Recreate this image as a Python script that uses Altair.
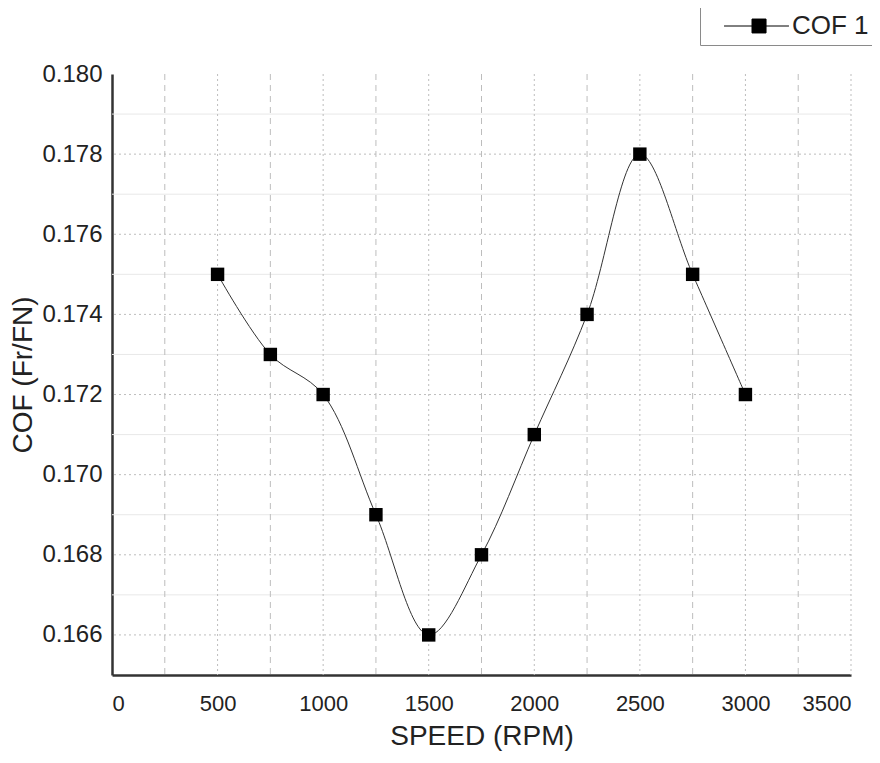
import altair as alt
import pandas as pd

speed = [500, 750, 1000, 1250, 1500, 1750, 2000, 2250, 2500, 2750, 3000]
cof = [0.175, 0.173, 0.172, 0.169, 0.166, 0.168, 0.171, 0.174, 0.178, 0.175, 0.172]
series = ["COF 1"] * len(speed)

x_major = [0, 500, 1000, 1500, 2000, 2500, 3000, 3500]
x_minor = [250, 750, 1250, 1750, 2250, 2750, 3250]
y_major = [0.166, 0.168, 0.170, 0.172, 0.174, 0.176, 0.178, 0.180]
y_minor = [0.167, 0.169, 0.171, 0.173, 0.175, 0.177, 0.179]

df = pd.DataFrame({"speed": speed, "cof": cof, "series": series})
FONT = "Liberation Sans"

xs = alt.Scale(domain=[0, 3500], nice=False)
ys = alt.Scale(domain=[0.165, 0.180], nice=False, zero=False)

vminor = alt.Chart(pd.DataFrame({"x": x_minor})).mark_rule(
    color="#bdbdbd", strokeWidth=1, strokeDash=[6, 5]
).encode(x=alt.X("x:Q", scale=xs))
vmajor = alt.Chart(pd.DataFrame({"x": x_major[1:]})).mark_rule(
    color="#bdbdbd", strokeWidth=1, strokeDash=[2, 3]
).encode(x=alt.X("x:Q", scale=xs))
hminor = alt.Chart(pd.DataFrame({"y": y_minor})).mark_rule(
    color="#e8e8e8", strokeWidth=1
).encode(y=alt.Y("y:Q", scale=ys))
hmajor = alt.Chart(pd.DataFrame({"y": y_major[:-1]})).mark_rule(
    color="#bdbdbd", strokeWidth=1, strokeDash=[2, 3]
).encode(y=alt.Y("y:Q", scale=ys))

base = alt.Chart(df).encode(
    x=alt.X("speed:Q", scale=xs,
            axis=alt.Axis(title="SPEED (RPM)", values=x_major, format="d", grid=False,
                          ticks=False, labelPadding=18, titlePadding=8,
                          labelFontSize=22)),
    y=alt.Y("cof:Q", scale=ys,
            axis=alt.Axis(title="COF (Fr/FN)", values=y_major, format=".3f", grid=False,
                          ticks=False, labelPadding=10, titlePadding=4,
                          labelFontSize=24)),
)

line = base.mark_line(interpolate="catmull-rom", color="#333333", strokeWidth=1)
pts = base.mark_point(shape="square", filled=True, size=180, opacity=1).encode(
    color=alt.Color("series:N", scale=alt.Scale(range=["#000000"]),
                    legend=alt.Legend(
                        title=None, orient="none", legendX=588, legendY=-67,
                        symbolType="M0.42,0H5.83M2.75,-0.58H3.92V0.58H2.75Z",
                        symbolSize=576, symbolStrokeWidth=1, symbolStrokeColor="#000000",
                        labelFontSize=26, labelFont=FONT, labelColor="#222222",
                        labelOffset=60, strokeColor="#8a8a8a", padding=6,
                        fillColor="white", cornerRadius=0,
                    ))
)

chart = alt.layer(hminor, hmajor, vminor, vmajor, line, pts).properties(
    width=739, height=601,
    autosize=alt.AutoSizeParams(type="none"),
    padding={"left": 104, "top": 66, "right": 21, "bottom": 80},
).configure_view(stroke=None).configure_axis(
    domainColor="#333333", domainWidth=2.5,
    labelFont=FONT, labelColor="#222222",
    titleFont=FONT, titleFontSize=28, titleColor="#222222", titleFontWeight="normal",
)

chart.save("out.html", embed_options={"renderer": "svg", "actions": False})
